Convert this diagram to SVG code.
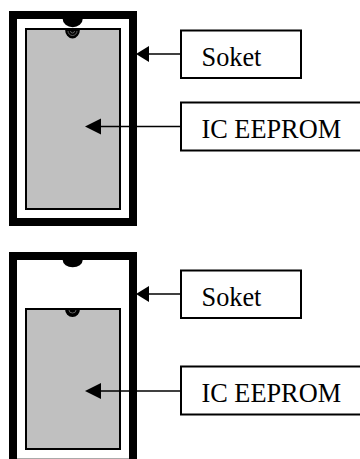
<svg xmlns="http://www.w3.org/2000/svg" width="360" height="459" viewBox="0 0 360 459">
<style>
.s{fill:#fff;stroke:#000;stroke-width:8}
.c{fill:#c0c0c0;stroke:#000;stroke-width:2}
.b{fill:#fff;stroke:#000;stroke-width:2}
.l{fill:none;stroke:#000;stroke-width:1.3}
.r{fill:none;stroke:#777;stroke-width:.8}
text{font-family:"Liberation Serif","Times New Roman",serif;font-size:26.3px;fill:#000}
</style>
<rect width="360" height="459" fill="#fff"/>
<g id="socket-top">
<rect class="s" x="13" y="15" width="120" height="207"/>
<path d="M62.700 19H82.700A10 8.300 0 0 1 62.700 19Z" fill="#000"/>
</g>
<g id="chip-top">
<rect class="c" x="26" y="29" width="94" height="180"/>
<path d="M65 29A7.500 9.500 0 0 0 80 29Z" fill="#000"/>
<path class="r" d="M68 31A4.500 4.500 0 0 0 77 31M70.500 31A2 2 0 0 0 74.500 31"/>
</g>
<g id="socket-bottom">
<rect class="s" x="13" y="256" width="120" height="207"/>
<path d="M62.700 260H82.700A10 7.300 0 0 1 62.700 260Z" fill="#000"/>
<rect x="17" y="458" width="112" height="1" fill="#aaa"/>
</g>
<g id="chip-bottom">
<rect class="c" x="26" y="309" width="94" height="140"/>
<path d="M65 309A7.500 8 0 0 0 80 309Z" fill="#000"/>
<path class="r" d="M69 310A3.500 3 0 0 0 76 310"/>
</g>
<g id="connectors">
<line class="l" x1="181" y1="54" x2="148" y2="54"/><path d="M136 54L149 46V62Z"/>
<line class="l" x1="181" y1="126.500" x2="100" y2="126.500"/><path d="M85 126.500L101 118.500V134.500Z"/>
<line class="l" x1="181" y1="294" x2="148" y2="294"/><path d="M136 294L149 286V302Z"/>
<line class="l" x1="181" y1="391" x2="100" y2="391"/><path d="M85 391L101 383V399Z"/>
</g>
<g id="label-soket-top"><rect class="b" x="181" y="30.500" width="120" height="47.500"/><text x="201.500" y="66">Soket</text></g>
<g id="label-eeprom-top"><rect class="b" x="181" y="102.500" width="190" height="48"/><text x="201.500" y="138">IC EEPROM</text></g>
<g id="label-soket-bottom"><rect class="b" x="181" y="270.500" width="120" height="47.500"/><text x="201.500" y="306">Soket</text></g>
<g id="label-eeprom-bottom"><rect class="b" x="181" y="366.500" width="190" height="48"/><text x="201.500" y="402">IC EEPROM</text></g>
</svg>
